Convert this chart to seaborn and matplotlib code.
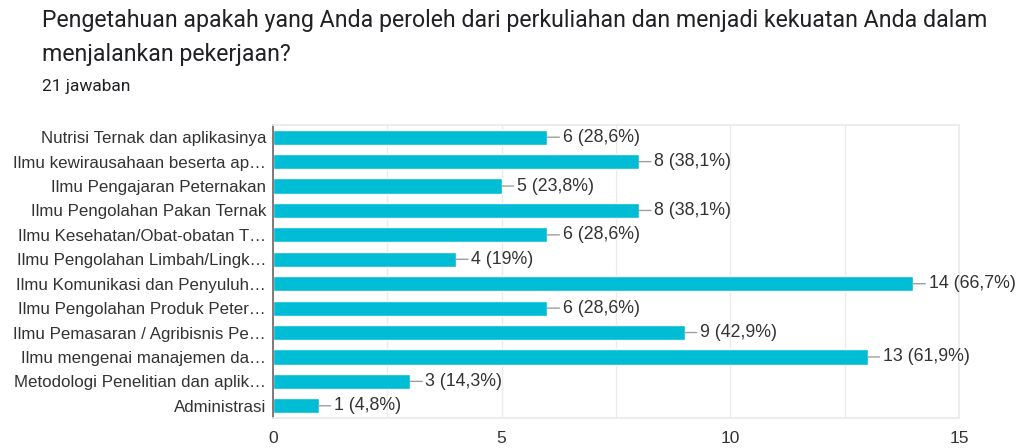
import numpy as np
import pandas as pd
import seaborn as sns
import matplotlib.pyplot as plt
from matplotlib.ticker import MultipleLocator

# data
labels = [
    "Nutrisi Ternak dan aplikasinya",
    "Ilmu kewirausahaan beserta ap…",
    "Ilmu Pengajaran Peternakan",
    "Ilmu Pengolahan Pakan Ternak",
    "Ilmu Kesehatan/Obat-obatan T…",
    "Ilmu Pengolahan Limbah/Lingk…",
    "Ilmu Komunikasi dan Penyuluh…",
    "Ilmu Pengolahan Produk Peter…",
    "Ilmu Pemasaran / Agribisnis Pe…",
    "Ilmu mengenai manajemen da…",
    "Metodologi Penelitian dan aplik…",
    "Administrasi",
]
counts = [6, 8, 5, 8, 6, 4, 14, 6, 9, 13, 3, 1]
pct_labels = ["28,6%", "38,1%", "23,8%", "38,1%", "28,6%", "19%",
              "66,7%", "28,6%", "42,9%", "61,9%", "14,3%", "4,8%"]
total = 21

df = pd.DataFrame({"label": labels, "count": counts})

sns.set_theme(style="white")
plt.rcParams["font.family"] = ["Liberation Sans", "DejaVu Sans"]

fig = plt.figure(figsize=(10.17, 4.48), dpi=100)
ax = fig.add_axes([273 / 1017, 1 - 418 / 448, (959 - 273) / 1017, (418 - 125) / 448])

sns.barplot(data=df, y="label", x="count", orient="h", color="#00bcd4",
            saturation=1, width=0.62, ax=ax)

ax.set_xlim(0, 15)
ax.set_ylim(11.5, -0.5)
ax.xaxis.set_major_locator(MultipleLocator(5))
ax.xaxis.set_minor_locator(MultipleLocator(2.5))
ax.grid(True, axis="x", which="both", color="#ebebeb", lw=1)
ax.set_axisbelow(True)
ax.set_xlabel("")
ax.set_ylabel("")

for side in ["top", "right", "bottom"]:
    ax.spines[side].set_color("#ebebeb")
ax.spines["left"].set_color("#666666")
ax.spines["left"].set_linewidth(1.2)

ax.tick_params(axis="x", which="both", length=0, pad=9, labelsize=12.5, labelcolor="#333333")
ax.tick_params(axis="y", length=0, pad=5, labelsize=12.2, labelcolor="#333333")

for i, (c, p) in enumerate(zip(counts, pct_labels)):
    ax.annotate(f"{c} ({p})", xy=(c, i), xytext=(11, 0), textcoords="offset points",
                va="center", ha="left", fontsize=12.8, color="#333333",
                arrowprops=dict(arrowstyle="-", color="#9e9e9e", lw=1,
                                shrinkA=0, shrinkB=0))

title_font = ["Roboto", "DejaVu Sans"]
fig.text(42 / 1017, 1 - 20 / 448, "Pengetahuan apakah yang Anda peroleh dari perkuliahan dan menjadi kekuatan Anda dalam",
         fontsize=16.7, color="#202124", va="center", ha="left", family=title_font)
fig.text(42 / 1017, 1 - 55 / 448, "menjalankan pekerjaan?",
         fontsize=16.7, color="#202124", va="center", ha="left", family=title_font)
fig.text(42 / 1017, 1 - 87 / 448, f"{total} jawaban",
         fontsize=12.5, color="#202124", va="center", ha="left", family=title_font)

fig.savefig("out.png", dpi=100)
